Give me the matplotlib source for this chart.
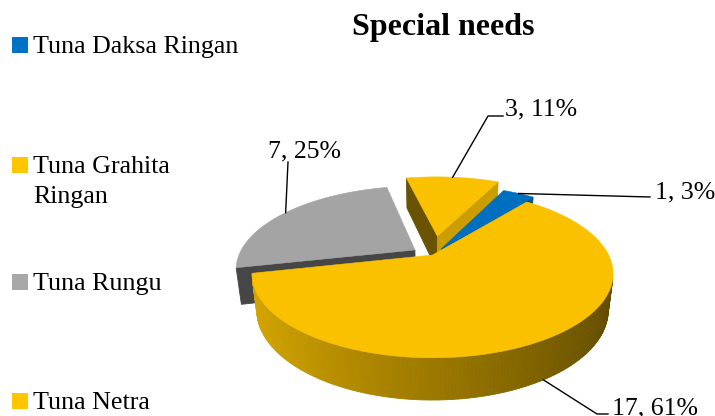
import textwrap
import numpy as np
import matplotlib
matplotlib.use("Agg")
import matplotlib.pyplot as plt
from matplotlib.patches import Polygon, Rectangle
from matplotlib.colors import to_rgb

# ---------------- data ----------------
categories = ["Tuna Daksa Ringan", "Tuna Grahita Ringan", "Tuna Rungu", "Tuna Netra"]
values = [1, 17, 7, 3]
percents = [3, 61, 25, 11]          # percentages as printed on the chart
colors = ["#0072C4", "#FFC600", "#A8A8A8", "#FFC600"]
explode = [0.10, 0.0, 0.12, 0.25]
title = "Special needs"
first_angle = 26                     # degrees, clockwise from 12 o'clock

# ---------------- figure ----------------
W, H = 715, 416
fig = plt.figure(figsize=(W / 100, H / 100), dpi=100)
ax = fig.add_axes([0, 0, 1, 1])
ax.set_xlim(0, W)
ax.set_ylim(H, 0)
ax.axis("off")

FONT = "Liberation Serif"

# ---------------- 3D projection (perspective camera) ----------------
elev = np.radians(27.0)
Dist = 4.01
SCALE = 706
CX, CY = 432.5, 255
DEPTH = 0.234
TOP_LIGHT = 0.975
ce, se = np.cos(elev), np.sin(elev)
Cam = np.array([0.0, -Dist * ce, Dist * se])
Fw = np.array([0.0, ce, -se])
Up = np.array([0.0, se, ce])


def proj(P):
    P = np.atleast_2d(np.asarray(P, float))
    v = P - Cam
    d = v @ Fw
    x = v[:, 0] / d
    y = (v @ Up) / d
    return np.column_stack([CX + SCALE * x, CY - SCALE * y])


def cam_dist(P):
    P = np.atleast_2d(np.asarray(P, float))
    return float(np.mean((P - Cam) @ Fw))


def shade(col, f):
    return tuple(np.clip(np.array(to_rgb(col)) * f, 0, 1))


total = float(sum(values))
spans = np.array(values) / total * 360.0
starts = first_angle + np.concatenate([[0.0], np.cumsum(spans)[:-1]])

walls = []
tops = []
anchors_top = []
anchors_bot = []
for i, v in enumerate(values):
    a0 = starts[i]
    a1 = a0 + spans[i]
    am = np.radians((a0 + a1) / 2)
    off = explode[i] * np.array([np.sin(am), np.cos(am)])
    n = max(2, int(spans[i] / 1.0) + 1)
    ang = np.radians(np.linspace(a0, a1, n))
    arc = off + np.column_stack([np.sin(ang), np.cos(ang)])
    top3 = np.column_stack([arc, np.zeros(n)])
    bot3 = np.column_stack([arc, -DEPTH * np.ones(n)])
    ctr_t = np.array([off[0], off[1], 0.0])
    ctr_b = np.array([off[0], off[1], -DEPTH])

    # outer curved wall
    for j in range(n - 1):
        quad = np.array([top3[j], top3[j + 1], bot3[j + 1], bot3[j]])
        amid = (ang[j] + ang[j + 1]) / 2
        nrm = np.array([np.sin(amid), np.cos(amid), 0.0])
        if nrm @ (Cam - quad.mean(axis=0)) > 0:
            f = 0.61 - 0.24 * np.sin(amid)
            walls.append((cam_dist(quad), proj(quad), shade(colors[i], f)))

    # radial walls
    for edge, nrm in ((0, np.array([-np.cos(ang[0]), np.sin(ang[0]), 0.0])),
                      (n - 1, np.array([np.cos(ang[-1]), -np.sin(ang[-1]), 0.0]))):
        quad = np.array([ctr_t, top3[edge], bot3[edge], ctr_b])
        if nrm @ (Cam - quad.mean(axis=0)) > 0:
            f = np.clip(0.742 + 0.25 * nrm[0] + 0.391 * nrm[1], 0.3, 0.95)
            walls.append((cam_dist(quad), proj(quad), shade(colors[i], f)))

    tops.append((proj(np.vstack([ctr_t, top3])), shade(colors[i], TOP_LIGHT)))
    anchors_top.append(proj([off[0] + np.sin(am), off[1] + np.cos(am), 0.0])[0])
    anchors_bot.append(proj([off[0] + np.sin(am), off[1] + np.cos(am), -DEPTH])[0])

walls.sort(key=lambda t: -t[0])
for k, (_, poly, col) in enumerate(walls):
    ax.add_patch(Polygon(poly, closed=True, facecolor=col, edgecolor=col,
                         linewidth=0.6, zorder=2 + k * 1e-4))
for poly, col in tops:
    ax.add_patch(Polygon(poly, closed=True, facecolor=col, edgecolor=col,
                         linewidth=0.4, zorder=4))

# ---------------- data labels ----------------
label_pos = [(685, 198), (655, 414), (305, 157), (541, 115)]
leader_pts = [[(650, 197)], [(608, 414), (597, 414)], [(288, 162)], [(503, 116), (488, 116)]]
use_bottom = [False, True, False, False]
for i, v in enumerate(values):
    txt = f"{v}, {percents[i]}%"
    ax.text(label_pos[i][0], label_pos[i][1], txt, ha="center", va="baseline",
            fontsize=18.5, family=FONT, color="black", zorder=6)
    anc = anchors_bot[i] if use_bottom[i] else anchors_top[i]
    pts = np.array(leader_pts[i] + [tuple(anc)])
    ax.plot(pts[:, 0], pts[:, 1], color="black", lw=1.0, zorder=5)

# ---------------- title ----------------
ax.text(443.5, 35, title, ha="center", va="baseline", fontsize=23,
        fontweight="bold", family=FONT, color="black")

# ---------------- legend ----------------
legend_baselines = [53, 173, 290, 409]
line_gap = 29.5
for i, name in enumerate(categories):
    yb = legend_baselines[i]
    ax.add_patch(Rectangle((12, yb - 16.5), 16, 16, facecolor=colors[i],
                           edgecolor="none"))
    for k, line in enumerate(textwrap.wrap(name, 17)):
        ax.text(33, yb + k * line_gap, line, ha="left", va="baseline",
                fontsize=18.7, family=FONT, color="black")

fig.savefig("out.png", dpi=100)
